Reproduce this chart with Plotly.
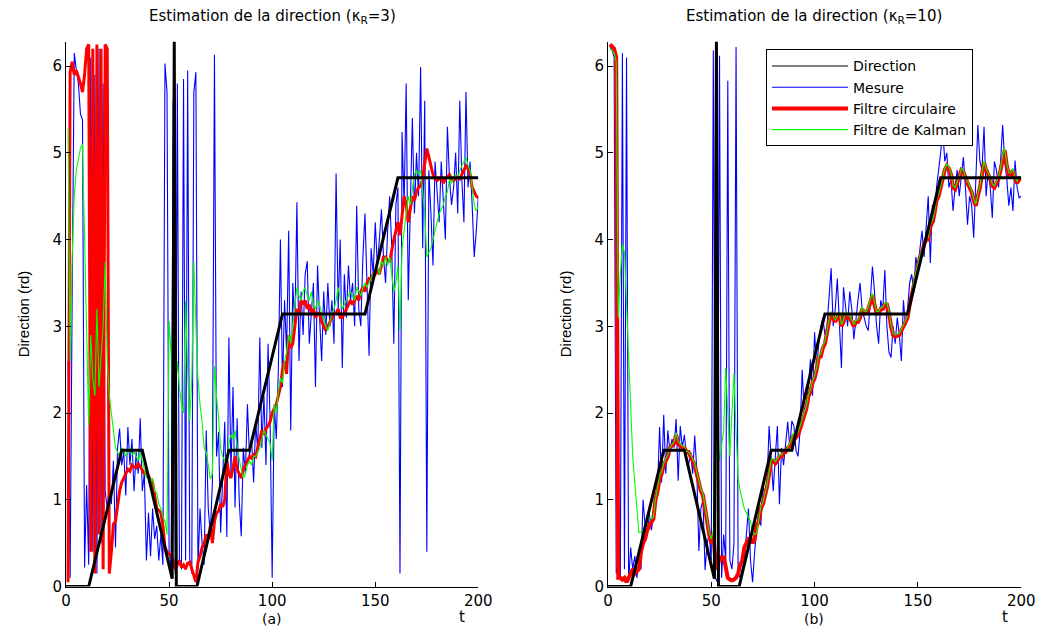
import plotly.graph_objects as go

# time steps of the simulation
T = list(range(1, 201))

# true direction (piecewise linear, vertices)
DIR_T = [0, 11, 27, 37, 51.5, 52.5, 53.5, 63.5, 79, 89, 105, 145, 161, 200]
DIR_Y = [0, 0, 1.571, 1.571, 0.09, 6.283, 0, 0, 1.571, 1.571, 3.142, 3.142, 4.712, 4.712]

# (a) kappa_R = 3
MES_A = [
    2.6, 0.1, 3.4, 6.15, 5.95, 5.8, 5.45, 5.38, 0.22, 1.17,
    0.25, 6.1, 0.4, 5.9, 0.15, 6.2, 0.5, 5.8, 1.1, 0.9,
    1.15, 0.95, 1.45, 0.45, 1.6, 1.82, 1.4, 1.55, 1.05, 1.84,
    1.4, 1.7, 1.1, 1.55, 1.3, 1.94, 1.1, 1.3, 0.3, 0.85,
    0.35, 0.9, 0.55, 0.7, 0.3, 0.6, 0.25, 6.03, 5.7, 0.4,
    0.2, 5.6, 0.15, 5.8, 0.3, 0.2, 5.85, 0.3, 5.95, 0.32,
    0.15, 5.7, 5.93, 0.2, 0.9, 0.5, 0.25, 1.8, 0.9, 0.6,
    1.2, 6.13, 1.5, 1.78, 0.62, 1.4, 1.9, 0.57, 2.87, 1.3,
    2.3, 0.91, 1.94, 1.0, 0.58, 1.6, 1.3, 2.1, 1.5, 1.7,
    1.2, 1.9, 1.55, 2.87, 1.6, 2.2, 1.4, 2.8, 1.9, 0.1,
    2.1, 1.7, 2.5, 4.0, 2.3, 3.3, 2.7, 4.1, 1.8, 3.5,
    3.0, 4.43, 2.6, 3.4, 2.9, 3.6, 3.75, 2.8, 3.2, 3.5,
    2.3, 3.7, 3.1, 2.6, 3.4, 2.9, 3.5, 3.0, 3.3, 2.8,
    4.76, 3.2, 4.0, 2.52, 3.6, 3.1, 3.7, 3.3, 3.5, 3.0,
    4.39, 3.2, 3.0, 3.8, 4.3, 3.4, 2.66, 3.9, 3.6, 4.2,
    3.7, 4.0, 4.35, 3.8, 3.5, 4.1, 4.5, 3.9, 2.8, 4.4,
    4.6, 0.15, 5.24, 4.4, 5.8, 3.3, 4.2, 5.4, 4.3, 5.0,
    4.5, 5.99, 3.9, 5.6, 0.4, 4.8, 4.3, 3.7, 4.9, 4.6,
    4.2, 4.9, 4.5, 4.0, 5.3, 4.7, 4.4, 4.6, 5.0, 4.3,
    5.6, 4.7, 4.2, 5.7, 4.6, 4.9, 4.4, 3.8, 4.1, 4.5,
]
CIRC_A = [
    0.05, 5.93, 6.05, 5.9, 5.95, 5.88, 5.8, 5.7, 5.9, 6.2,
    6.25, 0.4, 6.2, 0.15, 6.25, 0.6, 6.2, 0.2, 6.25, 6.2,
    0.15, 0.4, 0.72, 0.75, 0.95, 1.1, 1.2, 1.25, 1.3, 1.35,
    1.33, 1.4, 1.38, 1.37, 1.42, 1.38, 1.35, 1.3, 1.32, 1.28,
    1.22, 1.2, 1.05, 0.9, 0.88, 0.85, 0.7, 0.45, 0.4, 0.38,
    0.35, 0.3, 0.2, 0.25, 0.3, 0.22, 0.25, 0.2, 0.27, 0.28,
    0.2, 0.1, 0.05, 0.28, 0.35, 0.45, 0.5, 0.6, 0.55, 0.7,
    0.5, 0.75, 0.85, 0.87, 0.95, 0.92, 1.0, 1.45, 1.3, 1.25,
    1.4, 1.5, 1.35, 1.3, 1.25, 1.35, 1.4, 1.45, 1.5, 1.48,
    1.52, 1.5, 1.6, 1.7, 1.8, 1.75, 1.82, 1.85, 1.9, 2.0,
    2.05, 2.1, 2.2, 2.3, 2.5, 2.6, 2.45, 2.9, 2.75, 2.8,
    3.0, 3.2, 3.15, 3.3, 3.25, 3.3, 3.2, 3.25, 3.15, 3.2,
    3.1, 3.15, 3.15, 3.05, 3.0, 2.95, 3.0, 3.05, 3.1, 3.15,
    3.15, 3.2, 3.1, 3.1, 3.15, 3.2, 3.25, 3.3, 3.25, 3.3,
    3.35, 3.3, 3.4, 3.45, 3.4, 3.5, 3.55, 3.55, 3.6, 3.6,
    3.65, 3.6, 3.7, 3.8, 3.8, 3.75, 3.75, 3.9, 4.0, 4.1,
    4.2, 4.05, 4.3, 4.5, 4.4, 4.2, 4.35, 4.5, 4.45, 4.55,
    4.6, 4.62, 4.7, 4.9, 5.05, 4.95, 4.85, 4.75, 4.7, 4.68,
    4.7, 4.72, 4.65, 4.7, 4.72, 4.75, 4.7, 4.68, 4.7, 4.72,
    4.7, 4.75, 4.8, 4.85, 4.82, 4.75, 4.6, 4.55, 4.5, 4.48,
]
KAL_A = [
    5.28, 2.6, 3.8, 4.5, 4.8, 4.95, 5.05, 5.1, 4.0, 2.9,
    1.86, 2.9, 2.4, 2.2, 3.2, 2.3, 2.6, 3.0, 3.74, 2.6,
    2.2, 2.0, 1.8, 1.6, 1.55, 1.5, 1.6, 1.58, 1.5, 1.55,
    1.6, 1.52, 1.55, 1.5, 1.45, 1.55, 1.45, 1.35, 1.25, 1.3,
    1.2, 1.25, 1.1, 1.08, 0.95, 0.9, 0.8, 0.75, 0.6, 3.06,
    2.6, 2.3, 2.2, 2.6, 2.3, 2.1, 2.0, 3.29, 2.5, 1.9,
    2.4, 3.74, 3.0, 2.4, 2.1, 1.9, 1.6, 1.55, 1.4, 1.24,
    1.3, 2.54, 2.2, 1.95, 1.6, 1.5, 1.45, 1.5, 1.65, 1.75,
    1.7, 1.8, 1.6, 1.45, 1.35, 1.25, 1.3, 1.4, 1.45, 1.4,
    1.5, 1.5, 1.55, 1.6, 1.7, 1.8, 1.75, 1.7, 1.65, 1.45,
    2.1, 2.0, 2.25, 2.4, 2.35, 2.6, 2.7, 2.9, 2.8, 3.0,
    3.2, 3.45, 3.35, 3.3, 3.4, 3.45, 3.35, 3.3, 3.4, 3.25,
    3.2, 3.3, 3.25, 3.15, 3.1, 3.0, 2.95, 3.05, 3.15, 3.2,
    3.3, 3.45, 3.3, 3.2, 3.25, 3.3, 3.35, 3.4, 3.35, 3.3,
    3.45, 3.4, 3.35, 3.45, 3.5, 3.45, 3.5, 3.55, 3.6, 3.65,
    3.7, 3.6, 3.75, 3.7, 3.8, 3.7, 3.8, 3.6, 3.4, 3.5,
    3.7, 2.95, 3.9, 4.1, 4.3, 4.5, 4.4, 4.6, 4.75, 4.8,
    4.75, 4.8, 4.5, 4.3, 3.8, 3.85, 3.9, 4.0, 4.1, 4.2,
    4.3, 4.35, 4.4, 4.5, 4.55, 4.7, 4.65, 4.7, 4.75, 4.7,
    4.8, 4.85, 4.9, 4.95, 4.85, 4.8, 4.6, 4.4, 4.33, 4.38,
]

# (b) kappa_R = 10
MES_B = [
    6.22, 6.18, 6.1, 0.15, 0.25, 0.1, 6.15, 0.2, 6.1, 0.05,
    0.45, 0.2, 0.35, 0.1, 0.3, 0.2, 1.0, 0.7, 0.6, 0.85,
    0.65, 0.8, 0.95, 1.1, 1.84, 1.2, 1.98, 1.3, 1.8, 1.55,
    1.7, 1.6, 1.93, 1.22, 1.85, 1.6, 1.75, 1.5, 1.4, 1.55,
    1.3, 1.74, 1.35, 0.41, 0.9, 1.0, 0.19, 0.5, 0.6, 0.3,
    6.18, 0.1, 0.05, 6.12, 0.1, 0.6, 0.3, 5.83, 0.3, 0.2,
    0.5, 6.22, 0.15, 0.1, 0.2, 0.3, 0.6, 0.9, 0.3, 0.05,
    0.4, 0.65, 0.9, 0.7, 1.2, 1.0, 1.2, 1.85, 1.4, 1.1,
    1.5, 1.85, 0.95, 1.6, 1.4, 1.7, 1.9, 1.6, 1.91, 1.85,
    1.57, 1.5, 1.8, 2.5, 2.0, 2.1, 2.3, 2.62, 2.2, 2.93,
    2.5, 2.8, 3.0, 3.1, 2.9, 3.0, 3.4, 3.67, 3.0, 3.2,
    3.55, 3.1, 2.52, 3.45, 3.2, 3.0, 3.4, 3.2, 2.85, 3.1,
    3.3, 3.5, 3.2, 3.1, 3.0, 2.95, 3.3, 3.69, 3.4, 3.0,
    2.8, 3.3, 3.2, 3.65, 3.0, 2.7, 2.64, 3.0, 2.8, 3.1,
    2.9, 2.6, 3.3, 3.0, 3.2, 3.5, 3.6, 3.4, 3.8, 3.65,
    3.9, 4.1, 3.8, 4.2, 4.5, 3.73, 4.4, 4.2, 4.6, 4.8,
    5.0, 5.28, 4.9, 5.0, 4.6, 4.7, 4.33, 4.6, 4.8, 4.5,
    4.7, 4.95, 4.6, 4.17, 4.5, 4.4, 4.02, 4.6, 5.32, 4.9,
    4.8, 5.3, 4.5, 4.8, 4.6, 4.25, 4.9, 4.8, 4.6, 4.9,
    5.32, 4.9, 4.7, 4.39, 4.6, 4.33, 4.91, 4.6, 4.48, 4.5,
]
CIRC_B = [
    6.25, 6.22, 6.2, 6.1, 0.1, 0.1, 0.08, 0.1, 0.05, 0.1,
    0.15, 0.2, 0.15, 0.17, 0.2, 0.4, 0.5, 0.55, 0.65, 0.7,
    0.75, 0.78, 1.0, 1.1, 1.25, 1.3, 1.4, 1.45, 1.5, 1.6,
    1.62, 1.65, 1.75, 1.65, 1.62, 1.6, 1.6, 1.55, 1.55, 1.5,
    1.45, 1.4, 1.3, 1.2, 1.1, 1.05, 0.9, 0.7, 0.6, 0.5,
    0.6, 0.3, 0.2, 0.35, 0.3, 0.35, 0.25, 0.1, 0.08, 0.07,
    0.08, 0.1, 0.15, 0.25, 0.3, 0.45, 0.5, 0.55, 0.55, 0.5,
    0.55, 0.7, 0.75, 0.9, 0.95, 1.05, 1.15, 1.3, 1.45, 1.45,
    1.42, 1.45, 1.5, 1.5, 1.55, 1.55, 1.6, 1.62, 1.7, 1.75,
    1.72, 1.75, 1.82, 1.9, 1.98, 2.05, 2.19, 2.25, 2.35, 2.4,
    2.5, 2.64, 2.65, 2.75, 2.8, 2.95, 3.05, 3.15, 3.1, 3.05,
    3.1, 3.15, 3.0, 3.05, 3.15, 3.1, 3.1, 3.05, 3.0, 3.05,
    3.05, 3.1, 3.2, 3.15, 3.15, 3.2, 3.3, 3.36, 3.25, 3.15,
    3.15, 3.2, 3.2, 3.25, 3.25, 3.15, 3.0, 2.9, 2.88, 2.89,
    2.9, 2.95, 3.0, 3.05, 3.1, 3.25, 3.35, 3.5, 3.6, 3.7,
    3.8, 3.85, 3.95, 4.0, 4.0, 4.15, 4.2, 4.3, 4.45, 4.5,
    4.6, 4.7, 4.8, 4.85, 4.82, 4.75, 4.6, 4.58, 4.65, 4.7,
    4.8, 4.78, 4.7, 4.65, 4.6, 4.55, 4.45, 4.39, 4.5, 4.6,
    4.75, 4.89, 4.8, 4.75, 4.7, 4.62, 4.6, 4.65, 4.7, 4.8,
    4.95, 5.03, 4.85, 4.75, 4.75, 4.8, 4.7, 4.65, 4.7, 4.68,
]
KAL_B = [
    6.2, 6.18, 6.15, 6.05, 3.1, 3.6, 3.95, 3.85, 3.3, 2.6,
    2.1, 1.5, 1.2, 0.95, 0.62, 0.63, 0.65, 0.7, 0.75, 0.8,
    0.78, 0.8, 1.0, 1.12, 1.28, 1.32, 1.42, 1.47, 1.52, 1.6,
    1.64, 1.67, 1.77, 1.68, 1.64, 1.62, 1.61, 1.56, 1.55, 1.52,
    1.47, 1.42, 1.32, 1.22, 1.12, 1.07, 0.92, 0.72, 0.62, 0.55,
    0.65, 2.0, 1.8, 1.45, 1.6, 1.8, 2.52, 1.9, 1.5, 2.0,
    2.45, 1.8, 1.25, 1.1, 1.0, 0.9, 0.85, 0.8, 0.75, 0.62,
    0.6, 0.62, 0.8, 0.92, 0.97, 1.07, 1.17, 1.32, 1.47, 1.47,
    1.44, 1.47, 1.52, 1.52, 1.57, 1.57, 1.62, 1.65, 1.72, 1.77,
    1.74, 1.78, 1.85, 1.92, 2.0, 2.08, 2.21, 2.27, 2.37, 2.43,
    2.52, 2.66, 2.68, 2.78, 2.83, 2.97, 3.07, 3.17, 3.12, 3.07,
    3.12, 3.17, 3.02, 3.07, 3.17, 3.12, 3.12, 3.07, 3.02, 3.07,
    3.07, 3.12, 3.22, 3.17, 3.17, 3.22, 3.32, 3.38, 3.27, 3.17,
    3.17, 3.22, 3.22, 3.27, 3.27, 3.17, 3.02, 2.92, 2.9, 2.91,
    2.92, 2.97, 3.02, 3.07, 3.12, 3.27, 3.37, 3.52, 3.62, 3.72,
    3.82, 3.87, 3.97, 4.02, 4.02, 4.17, 4.22, 4.32, 4.47, 4.52,
    4.62, 4.72, 4.82, 4.87, 4.84, 4.77, 4.62, 4.6, 4.67, 4.72,
    4.82, 4.8, 4.72, 4.67, 4.62, 4.57, 4.47, 4.41, 4.52, 4.62,
    4.77, 4.91, 4.82, 4.77, 4.72, 4.64, 4.62, 4.67, 4.72, 4.82,
    4.97, 5.05, 4.87, 4.77, 4.77, 4.82, 4.72, 4.67, 4.72, 4.7,
]

TITLES = ["Estimation de la direction (κ<sub>R</sub>=3)", "Estimation de la direction (κ<sub>R</sub>=10)"]
PANELS = ["(a)", "(b)"]
XTICKS = [0, 50, 100, 150, 200]
YTICKS = [0, 1, 2, 3, 4, 5, 6]
TWO_PI = 6.2832

FONT = "DejaVu Sans, Liberation Sans, Arial, sans-serif"

# the page body keeps its default 8px margin, so the figure is 16px smaller
W, H, OFF = 1040, 623, 8


def px(x):
    return (x - OFF) / W


def py(y):
    return 1 - (y - OFF) / H


fig = go.Figure()

# legend entry for the true direction (drawn grey in the original legend)
fig.add_trace(go.Scatter(x=[None], y=[None], mode="lines", name="Direction",
                         line=dict(color="#808080", width=2), legendrank=1))

panels = [
    ("x", "y", MES_A, CIRC_A, KAL_A, 3),
    ("x2", "y2", MES_B, CIRC_B, KAL_B, 4),
]
for i, (xa, ya, mes, circ, kal, red_w) in enumerate(panels):
    show = i == 1
    fig.add_trace(go.Scatter(x=T, y=mes, mode="lines", name="Mesure", xaxis=xa, yaxis=ya,
                             line=dict(color="#0000ff", width=1.1), showlegend=show, legendrank=2))
    fig.add_trace(go.Scatter(x=T, y=circ, mode="lines", name="Filtre circulaire", xaxis=xa, yaxis=ya,
                             line=dict(color="#ff0000", width=red_w), showlegend=show, legendrank=3))
    fig.add_trace(go.Scatter(x=T, y=kal, mode="lines", name="Filtre de Kalman", xaxis=xa, yaxis=ya,
                             line=dict(color="#00ff00", width=1.1), showlegend=show, legendrank=4))
    fig.add_trace(go.Scatter(x=DIR_T, y=DIR_Y, mode="lines", name="Direction", xaxis=xa, yaxis=ya,
                             line=dict(color="black", width=3), showlegend=False))

axis_common = dict(
    showline=True, linecolor="black", linewidth=1, mirror=False,
    ticks="inside", ticklen=5, tickcolor="black", tickwidth=1,
    showgrid=False, zeroline=False,
    tickfont=dict(family=FONT, size=15, color="black"),
)
fig.update_layout(
    width=W, height=H,
    margin=dict(l=0, r=0, t=0, b=0),
    plot_bgcolor="white", paper_bgcolor="white",
    xaxis=dict(domain=[px(62), px(482)], range=[0, 200], tickvals=XTICKS, anchor="y", **axis_common),
    yaxis=dict(domain=[py(595), py(42)], range=[0, TWO_PI], tickvals=YTICKS, anchor="x", **axis_common),
    xaxis2=dict(domain=[px(614), px(1035)], range=[0, 200], tickvals=XTICKS, anchor="y2", **axis_common),
    yaxis2=dict(domain=[py(595), py(42)], range=[0, TWO_PI], tickvals=YTICKS, anchor="x2", **axis_common),
    legend=dict(x=px(775), y=py(50), xanchor="left", yanchor="top",
                bgcolor="white", bordercolor="black", borderwidth=1,
                font=dict(family=FONT, size=14, color="black"),
                tracegroupgap=0, itemwidth=76),
    showlegend=True,
)

ann = []
for i, (cx, ylx) in enumerate([(272, 19), (824, 571)]):
    ann.append(dict(text=TITLES[i], x=px(cx), y=py(17), xref="paper", yref="paper",
                    xanchor="center", yanchor="middle", showarrow=False,
                    font=dict(family=FONT, size=15, color="black")))
    ann.append(dict(text=PANELS[i], x=px(cx), y=py(628), xref="paper", yref="paper",
                    xanchor="center", yanchor="middle", showarrow=False,
                    font=dict(family=FONT, size=14, color="black")))
    ann.append(dict(text="t", x=192, xref="x" if i == 0 else "x2", y=py(626), yref="paper",
                    xanchor="center", yanchor="middle", showarrow=False,
                    font=dict(family=FONT, size=15, color="black")))
    ann.append(dict(text="Direction (rd)", x=px(ylx), y=py(318), xref="paper", yref="paper",
                    xanchor="center", yanchor="middle", textangle=-90, showarrow=False,
                    font=dict(family="Liberation Sans, Arial, sans-serif", size=15, color="black")))
fig.update_layout(annotations=ann)

fig.write_html("out.html", config={"displayModeBar": False})
